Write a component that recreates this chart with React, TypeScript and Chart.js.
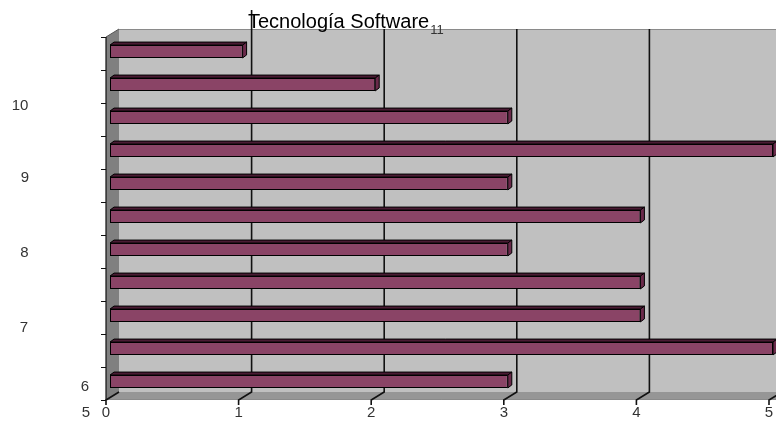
import { useEffect, useRef } from 'react';
import { Chart, registerables } from 'chart.js';

Chart.register(...registerables);

// ---- data ----
const categories = ['11', '10', '9', '8', '7', '6', '5', '4', '3', '2', '1'];
const values = [1, 2, 3, 5, 3, 4, 3, 4, 4, 5, 3];
const xTicks = [0, 1, 2, 3, 4, 5];
const yTickLabels = ['11', '10', '9', '8', '7', '6', '5'];
const titleText = 'Tecnología Software';

// ---- layout (positions of the displaced category labels: [x, band position, font size]) ----
const yLabelLayout: [number, number, number][] = [
  [437, -0.15, 13],
  [20, 2.15, 15],
  [25, 4.33, 15],
  [24.5, 6.6, 15],
  [24, 8.88, 15],
  [85, 10.67, 15],
  [86, 11.45, 15],
];
const FRONT = { dx: -4, dy: 2 };
const BACK = { dx: 9, dy: -6 };
const BAR_DEPTH = { dx: 4, dy: -3 };
const FONT = '"Liberation Sans", Arial, sans-serif';

const threeDPlugin = {
  id: 'threeD',
  beforeDatasetsDraw(chart: any) {
    const ctx = chart.ctx as CanvasRenderingContext2D;
    const ca = chart.chartArea;
    const xs = chart.scales.x;
    const W = chart.width;
    ctx.save();
    const bl = ca.left + BACK.dx;
    const bt = ca.top + BACK.dy;
    const bb = ca.bottom + BACK.dy;
    const fl = ca.left + FRONT.dx;
    const ft = ca.top + FRONT.dy;
    const fb = ca.bottom + FRONT.dy;
    // back wall
    ctx.fillStyle = '#c0c0c0';
    ctx.fillRect(bl, bt, W - bl + 5, bb - bt);
    ctx.strokeStyle = '#8a8a8a';
    ctx.lineWidth = 1;
    ctx.beginPath();
    ctx.moveTo(bl, bt + 0.5);
    ctx.lineTo(W + 5, bt + 0.5);
    ctx.stroke();
    // left wall
    ctx.fillStyle = '#808080';
    ctx.beginPath();
    ctx.moveTo(fl, ft);
    ctx.lineTo(bl, bt);
    ctx.lineTo(bl, bb);
    ctx.lineTo(fl, fb);
    ctx.closePath();
    ctx.fill();
    ctx.strokeStyle = '#555';
    ctx.beginPath();
    ctx.moveTo(fl, ft);
    ctx.lineTo(bl, bt);
    ctx.stroke();
    // floor
    ctx.fillStyle = '#969696';
    ctx.beginPath();
    ctx.moveTo(fl, fb);
    ctx.lineTo(bl, bb);
    ctx.lineTo(W + 20, bb);
    ctx.lineTo(W + 20, fb);
    ctx.closePath();
    ctx.fill();
    ctx.strokeStyle = '#8a8a8a';
    ctx.beginPath();
    ctx.moveTo(fl, fb - 0.5);
    ctx.lineTo(W + 5, fb - 0.5);
    ctx.stroke();
    // grid lines on the back wall + floor connectors
    ctx.strokeStyle = '#111';
    ctx.lineWidth = 1.6;
    xTicks.forEach((v) => {
      const px = xs.getPixelForValue(v);
      const xb = px + BACK.dx;
      const xf = px + FRONT.dx;
      ctx.beginPath();
      if (v !== xTicks[0]) {
        ctx.moveTo(xb, v === xTicks[1] ? 10 : bt);
        ctx.lineTo(xb, bb);
      } else {
        ctx.moveTo(xb, bb);
      }
      ctx.lineTo(xf, fb);
      ctx.lineTo(xf, fb + 5);
      ctx.stroke();
    });
    // left axis
    ctx.lineWidth = 1.2;
    ctx.strokeStyle = '#111';
    ctx.beginPath();
    ctx.moveTo(fl, ft);
    ctx.lineTo(fl, fb);
    const band = (ca.bottom - ca.top) / categories.length;
    for (let i = 0; i <= categories.length; i++) {
      const y = Math.round(ca.top + FRONT.dy + i * band) + 0.5;
      ctx.moveTo(fl - 5, y);
      ctx.lineTo(fl, y);
    }
    ctx.stroke();
    ctx.restore();
  },
  afterDatasetsDraw(chart: any) {
    const ctx = chart.ctx as CanvasRenderingContext2D;
    const meta = chart.getDatasetMeta(0);
    ctx.save();
    ctx.strokeStyle = '#000';
    ctx.lineWidth = 1;
    meta.data.forEach((el: any) => {
      const { x, y, base, height } = el.getProps(['x', 'y', 'base', 'height'], true);
      const top = y - height / 2;
      const bottom = y + height / 2;
      // top face
      ctx.fillStyle = '#4a1b33';
      ctx.beginPath();
      ctx.moveTo(base, top);
      ctx.lineTo(base + BAR_DEPTH.dx, top + BAR_DEPTH.dy);
      ctx.lineTo(x + BAR_DEPTH.dx, top + BAR_DEPTH.dy);
      ctx.lineTo(x, top);
      ctx.closePath();
      ctx.fill();
      ctx.stroke();
      // side face
      ctx.fillStyle = '#6a2a4a';
      ctx.beginPath();
      ctx.moveTo(x, top);
      ctx.lineTo(x + BAR_DEPTH.dx, top + BAR_DEPTH.dy);
      ctx.lineTo(x + BAR_DEPTH.dx, bottom + BAR_DEPTH.dy);
      ctx.lineTo(x, bottom);
      ctx.closePath();
      ctx.fill();
      ctx.stroke();
    });
    ctx.restore();
  },
  afterDraw(chart: any) {
    const ctx = chart.ctx as CanvasRenderingContext2D;
    const ca = chart.chartArea;
    const band = (ca.bottom - ca.top) / categories.length;
    ctx.save();
    // title
    ctx.fillStyle = '#000';
    ctx.font = `20px ${FONT}`;
    ctx.textAlign = 'left';
    ctx.textBaseline = 'alphabetic';
    ctx.fillText(titleText, 248, 28);
    // displaced category labels
    ctx.fillStyle = '#333';
    ctx.textAlign = 'center';
    ctx.textBaseline = 'middle';
    yTickLabels.forEach((lab, i) => {
      const [x, pos, size] = yLabelLayout[i];
      ctx.font = `${size}px ${FONT}`;
      ctx.fillText(lab, x, ca.top + pos * band);
    });
    ctx.restore();
  },
};

export default function App() {
  const ref = useRef<HTMLCanvasElement | null>(null);
  useEffect(() => {
    if (!ref.current) return;
    const chart = new Chart(ref.current, {
      type: 'bar',
      data: {
        labels: categories,
        datasets: [
          {
            data: values,
            backgroundColor: '#8a4466',
            borderColor: '#000',
            borderWidth: 1,
            borderSkipped: false,
            categoryPercentage: 1,
            barPercentage: 0.39,
          },
        ],
      },
      options: {
        indexAxis: 'y',
        animation: false,
        responsive: false,
        maintainAspectRatio: false,
        layout: { padding: { left: 110, right: 3, top: 35, bottom: 0 } },
        plugins: {
          legend: { display: false },
          title: { display: false },
          tooltip: { enabled: false },
        },
        scales: {
          x: {
            type: 'linear',
            min: 0,
            max: 5,
            afterBuildTicks: (s: any) => {
              s.ticks = xTicks.map((v) => ({ value: v }));
            },
            afterFit: (s: any) => {
              s.height = 30;
              s.paddingLeft = 0;
              s.paddingRight = 0;
            },
            ticks: {
              labelOffset: -4,
              padding: 6,
              color: '#333',
              font: { family: FONT, size: 15 },
              maxRotation: 0,
              autoSkip: false,
            },
            grid: { display: false, drawTicks: false },
            border: { display: false },
          },
          y: {
            display: false,
          },
        },
      } as any,
      plugins: [threeDPlugin],
    });
    return () => chart.destroy();
  }, []);
  return (
    <div style={{ position: 'fixed', left: 0, top: 0, width: 776, height: 428, background: '#fff' }}>
      <canvas ref={ref} width={776} height={428} style={{ display: 'block' }} />
    </div>
  );
}
